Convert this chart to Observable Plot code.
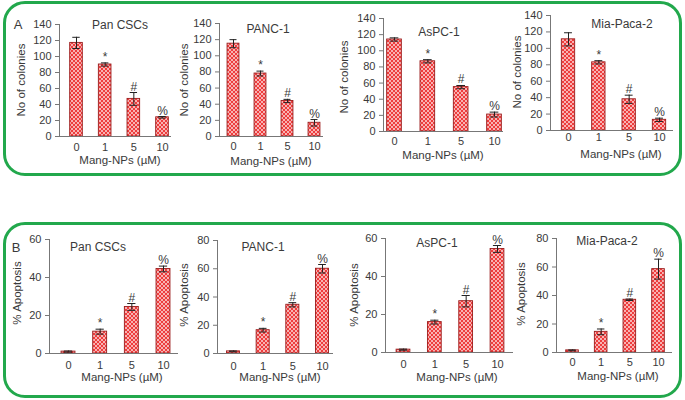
<!DOCTYPE html>
<html>
<head>
<meta charset="utf-8">
<script src="https://cdn.jsdelivr.net/npm/d3@7"></script>
<script src="https://cdn.jsdelivr.net/npm/@observablehq/plot@0.6"></script>
<style>
  html, body { margin: 0; padding: 0; background: #fff; }
  #root { position: relative; width: 685px; height: 400px; overflow: hidden;
          font-family: "Liberation Sans", Arial, sans-serif; color: #3a3a3a; }
  .box { position: absolute; border: 3px solid #22a84c; border-radius: 22px; box-sizing: border-box; }
  .lbl { position: absolute; white-space: nowrap; transform: translate(-50%, -50%); line-height: 1; }
  .ylbl { position: absolute; white-space: nowrap; transform: translate(-50%, -50%) rotate(-90deg); line-height: 1; }
  .plot { position: absolute; }
</style>
</head>
<body>
<svg width="0" height="0" style="position:absolute">
  <defs>
    <pattern id="dots" width="4" height="4" patternUnits="userSpaceOnUse">
      <rect width="4" height="4" fill="#ee3d3d"></rect>
      <circle cx="1" cy="1" r="1" fill="#fcdada"></circle>
      <circle cx="3" cy="3" r="1" fill="#fcdada"></circle>
    </pattern>
  </defs>
</svg>
<div id="root"></div>
<script>
// ---------- data ----------
const doses = ["0", "1", "5", "10"];
const sigMarks = ["", "*", "#", "%"];
const cellLines = ["Pan CSCs", "PANC-1", "AsPC-1", "Mia-Paca-2"];

const coloniesPanCSC = [117, 90, 47, 24];
const coloniesPanCSCErr = [7, 2, 8, 1];
const coloniesPANC1 = [115, 78, 44, 17];
const coloniesPANC1Err = [5, 3, 2, 4];
const coloniesAsPC1 = [114, 87, 55, 21];
const coloniesAsPC1Err = [2, 2, 2, 3];
const coloniesMia = [111, 83, 38, 13];
const coloniesMiaErr = [8, 2, 5, 2];

const apoptosisPanCSC = [1, 11.5, 24.5, 44.5];
const apoptosisPanCSCErr = [0.3, 1.3, 1.8, 1.5];
const apoptosisPANC1 = [1.5, 16.5, 34.5, 60];
const apoptosisPANC1Err = [0.3, 1.3, 1.5, 3];
const apoptosisAsPC1 = [1.5, 16, 27, 54.5];
const apoptosisAsPC1Err = [0.3, 1, 3, 1.8];
const apoptosisMia = [1.5, 14.5, 37, 58.5];
const apoptosisMiaErr = [0.3, 2, 0.5, 7];

const coloniesTicks = [0, 20, 40, 60, 80, 100, 120, 140];
const apopTicks60 = [0, 20, 40, 60];
const apopTicks80 = [0, 20, 40, 60, 80];

const xLabel = "Mang-NPs (µM)";
const yLabelA = "No of colonies";
const yLabelB = "% Apoptosis";

// ---------- layout (pixel geometry) ----------
const panels = [
  // panel A
  {vals: coloniesPanCSC, errs: coloniesPanCSCErr, ticks: coloniesTicks, ymax: 140, title: cellLines[0], ylab: yLabelA,
   axisX: 59, c0: 76, c3: 162, right: 171, yTop: 24, y0: 136, pad: 6.9,
   t: [120, 25], yl: [22, 80], xl: [120, 161]},
  {vals: coloniesPANC1, errs: coloniesPANC1Err, ticks: coloniesTicks, ymax: 140, title: cellLines[1], ylab: yLabelA,
   axisX: 219, c0: 233, c3: 314, right: 323, yTop: 23, y0: 136, pad: 5.9,
   t: [268, 29], yl: [185, 80], xl: [271, 162]},
  {vals: coloniesAsPC1, errs: coloniesAsPC1Err, ticks: coloniesTicks, ymax: 140, title: cellLines[2], ylab: yLabelA,
   axisX: 383, c0: 394, c3: 494, right: 503, yTop: 18, y0: 131, pad: 5.9,
   t: [439, 32], yl: [345, 77], xl: [443, 156]},
  {vals: coloniesMia, errs: coloniesMiaErr, ticks: coloniesTicks, ymax: 140, title: cellLines[3], ylab: yLabelA,
   axisX: 550, c0: 568, c3: 659, right: 673, yTop: 15, y0: 130, pad: 2.9,
   t: [622, 24], yl: [518, 72], xl: [621, 155]},
  // panel B
  {vals: apoptosisPanCSC, errs: apoptosisPanCSCErr, ticks: apopTicks60, ymax: 60, title: cellLines[0], ylab: yLabelB,
   axisX: 49, c0: 68, c3: 163, right: 178, yTop: 239, y0: 353, pad: 7.5,
   t: [98, 247], yl: [18, 293], xl: [122, 378]},
  {vals: apoptosisPANC1, errs: apoptosisPANC1Err, ticks: apopTicks80, ymax: 80, title: cellLines[1], ylab: yLabelB,
   axisX: 217, c0: 233, c3: 322, right: 333, yTop: 240, y0: 353, pad: 8.2,
   t: [263, 247], yl: [185, 295], xl: [280, 378]},
  {vals: apoptosisAsPC1, errs: apoptosisAsPC1Err, ticks: apopTicks60, ymax: 60, title: cellLines[2], ylab: yLabelB,
   axisX: 385, c0: 403, c3: 497, right: 513, yTop: 238, y0: 352, pad: 7.2,
   t: [437, 243], yl: [355, 295], xl: [457, 378]},
  {vals: apoptosisMia, errs: apoptosisMiaErr, ticks: apopTicks80, ymax: 80, title: cellLines[3], ylab: yLabelB,
   axisX: 556, c0: 572, c3: 658, right: 672, yTop: 238, y0: 352, pad: 5.9,
   t: [607, 241], yl: [522, 294], xl: [618, 377]}
];

const root = document.getElementById("root");
function addDiv(cls, text, x, y, size, extra) {
  const d = document.createElement("div");
  d.className = cls;
  d.textContent = text;
  d.style.left = x + "px";
  d.style.top = y + "px";
  d.style.fontSize = size + "px";
  if (extra) Object.assign(d.style, extra);
  root.appendChild(d);
  return d;
}

// boxes
const boxA = document.createElement("div");
boxA.className = "box";
Object.assign(boxA.style, {left: "3px", top: "1px", width: "679px", height: "175px"});
root.appendChild(boxA);
const boxB = document.createElement("div");
boxB.className = "box";
Object.assign(boxB.style, {left: "3px", top: "222px", width: "679px", height: "176px"});
root.appendChild(boxB);

addDiv("lbl", "A", 18, 24, 13);
addDiv("lbl", "B", 16, 247, 13);

const mL = 40, mR = 4, mT = 8, mB = 24;
const hw = 0.22, capW = 0.13;

for (const p of panels) {
  const step = (p.c3 - p.c0) / 3;
  const lo = -(p.c0 - p.axisX) / step;
  const hi = 3 + (p.right - p.c3) / step;
  const rows = p.vals.map((v, i) => ({i, v, e: p.errs[i], sig: sigMarks[i]}));
  const width = mL + (p.right - p.axisX) + mR;
  const height = mT + (p.y0 - p.yTop) + mB;
  const chart = Plot.plot({
    width, height,
    marginLeft: mL, marginRight: mR, marginTop: mT, marginBottom: mB,
    style: {fontFamily: '"Liberation Sans", Arial, sans-serif', fontSize: "11px", color: "#3a3a3a", background: "transparent", overflow: "visible"},
    x: {type: "linear", domain: [lo, hi], axis: null},
    y: {domain: [0, p.ymax], axis: null},
    marks: [
      Plot.rectY(rows, {x1: d => d.i - hw, x2: d => d.i + hw, y: "v", fill: "url(#dots)", stroke: "#9a1c1c", strokeWidth: 0.9}),
      Plot.ruleX(rows, {x: "i", y1: d => d.v - d.e, y2: d => d.v + d.e, stroke: "#222", strokeWidth: 1}),
      Plot.ruleY(rows, {y: d => d.v + d.e, x1: d => d.i - capW, x2: d => d.i + capW, stroke: "#222", strokeWidth: 1}),
      Plot.ruleY(rows, {y: d => d.v - d.e, x1: d => d.i - capW, x2: d => d.i + capW, stroke: "#222", strokeWidth: 1}),
      Plot.text(rows.filter(d => d.sig), {x: "i", y: d => d.v + d.e, text: "sig", lineAnchor: "bottom", dy: -2, fontSize: 12, fill: "#3a3a3a"}),
      Plot.axisY({ticks: p.ticks, tickSize: 4, tickPadding: 4, label: null, stroke: "#777", fill: "#3a3a3a"}),
      Plot.axisX({ticks: [0, 1, 2, 3], tickFormat: i => doses[i], tickSize: 0, tickPadding: p.pad, label: null, fill: "#3a3a3a"}),
      Plot.ruleX([lo], {stroke: "#777"}),
      Plot.ruleY([0], {stroke: "#777"})
    ]
  });
  chart.classList.add("plot");
  chart.style.left = (p.axisX - mL) + "px";
  chart.style.top = (p.yTop - mT) + "px";
  root.appendChild(chart);

  addDiv("lbl", p.title, p.t[0], p.t[1], 12);
  addDiv("ylbl", p.ylab, p.yl[0], p.yl[1], 11.5);
  addDiv("lbl", xLabel, p.xl[0], p.xl[1], 11.5);
}
</script>
</body>
</html>
